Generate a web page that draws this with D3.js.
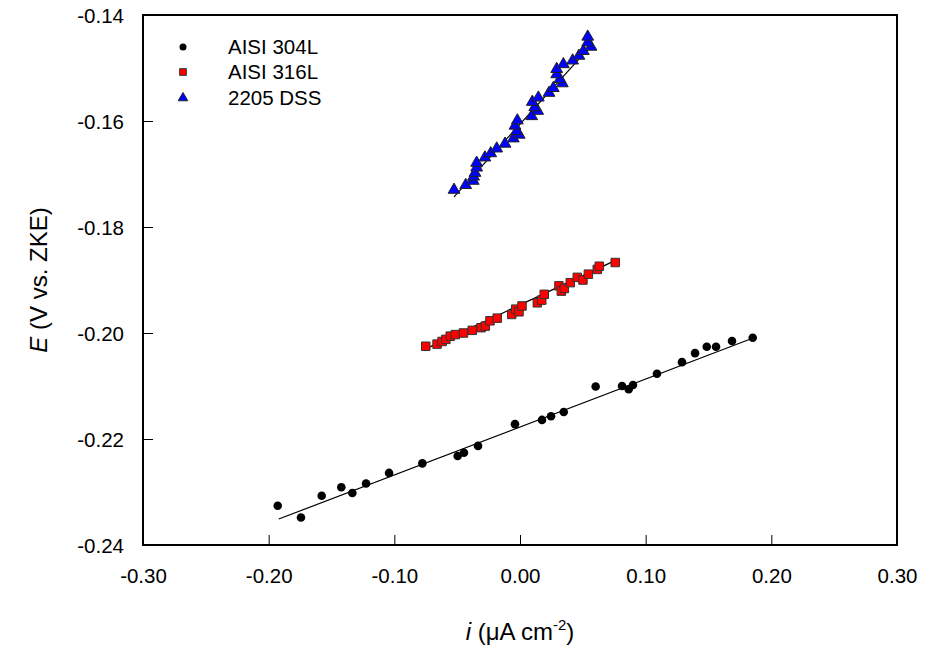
<!DOCTYPE html>
<html><head><meta charset="utf-8">
<script src="https://cdn.jsdelivr.net/npm/d3@7"></script>
<style>body{margin:0;background:#fff}</style>
</head><body>
<svg id="c" width="928" height="657"></svg>
<script>
const xTicks = [-0.30,-0.20,-0.10,0.00,0.10,0.20,0.30];
const yTicks = [-0.24,-0.22,-0.20,-0.18,-0.16,-0.14];

const series304X = [-0.1928,-0.1743,-0.1578,-0.1422,-0.1334,-0.1225,-0.1042,-0.0777,-0.0496,-0.0446,-0.0334,-0.0040,0.0175,0.0247,0.0348,0.0602,0.0812,0.0865,0.0899,0.1090,0.1289,0.1393,0.1486,0.1560,0.1687,0.1852];
const series304Y = [-0.2326,-0.2348,-0.2307,-0.2291,-0.2302,-0.2284,-0.2264,-0.2246,-0.2232,-0.2226,-0.2213,-0.2172,-0.2164,-0.2157,-0.2149,-0.2101,-0.2100,-0.2106,-0.2098,-0.2077,-0.2055,-0.2038,-0.2026,-0.2026,-0.2015,-0.2009];

const series316X = [-0.0750,-0.0660,-0.0620,-0.0590,-0.0555,-0.0515,-0.0450,-0.0380,-0.0310,-0.0276,-0.0239,-0.0181,-0.0066,-0.0034,-0.0008,0.0016,0.0138,0.0173,0.0193,0.0310,0.0329,0.0353,0.0400,0.0456,0.0501,0.0544,0.0615,0.0631,0.0758];
const series316Y = [-0.2025,-0.2021,-0.2016,-0.2012,-0.2006,-0.2003,-0.2000,-0.1995,-0.1990,-0.1987,-0.1977,-0.1972,-0.1965,-0.1955,-0.1960,-0.1949,-0.1943,-0.1938,-0.1927,-0.1911,-0.1921,-0.1916,-0.1905,-0.1895,-0.1900,-0.1889,-0.1880,-0.1874,-0.1867];

const series2205X = [-0.0525,-0.0432,-0.0372,-0.0369,-0.0358,-0.0345,-0.0345,-0.0279,-0.0233,-0.0185,-0.0119,-0.0053,-0.0006,-0.0026,-0.0040,-0.0021,0.0093,0.0141,0.0117,0.0098,0.0146,0.0231,0.0265,0.0337,0.0318,0.0292,0.0292,0.0345,0.0419,0.0469,0.0504,0.0565,0.0539,0.0539];
const series2205Y = [-0.1730,-0.1721,-0.1713,-0.1705,-0.1698,-0.1688,-0.1679,-0.1669,-0.1661,-0.1652,-0.1643,-0.1633,-0.1626,-0.1619,-0.1609,-0.1599,-0.1591,-0.1581,-0.1574,-0.1564,-0.1556,-0.1547,-0.1538,-0.1529,-0.1521,-0.1512,-0.1502,-0.1493,-0.1486,-0.1477,-0.1468,-0.1460,-0.1452,-0.1441];

// fit lines: [x0, y0, x1, y1]
const fit304 = [-0.192,-0.2351,0.185,-0.2010];
const fit316 = [-0.075,-0.2030,0.076,-0.1863];
const fit2205 = [-0.0525,-0.1743,0.057,-0.1457];

const legendLabels = ["AISI 304L","AISI 316L","2205 DSS"];

const W=928,H=657, m={l:143,t:15,r:31,b:112};
const pw=W-m.l-m.r, ph=H-m.t-m.b;
const svg=d3.select("#c");
const x=d3.scaleLinear().domain([-0.30,0.30]).range([m.l,m.l+pw]);
const y=d3.scaleLinear().domain([-0.24,-0.14]).range([m.t+ph,m.t]);
const font="Liberation Sans, Arial, sans-serif";
const fmt=d=>d.toFixed(2);

// axes with inward ticks
const xa=svg.append("g").attr("transform",`translate(0,${m.t+ph})`)
  .call(d3.axisBottom(x).tickValues(xTicks).tickSize(-10).tickPadding(23).tickFormat(fmt));
const ya=svg.append("g").attr("transform",`translate(${m.l},0)`)
  .call(d3.axisLeft(y).tickValues(yTicks).tickSize(-10).tickPadding(19).tickFormat(fmt));
[xa,ya].forEach(a=>{
  a.select(".domain").remove();
  a.selectAll("line").attr("stroke","#000").attr("stroke-width",1);
  a.selectAll("text").attr("font-family",font).attr("font-size",20.5).attr("fill","#000");
});
xa.selectAll("text").attr("dy","0.71em");
ya.selectAll("text").attr("dy","0.35em");
// frame
svg.append("rect").attr("x",m.l).attr("y",m.t).attr("width",pw).attr("height",ph)
  .attr("fill","none").attr("stroke","#000").attr("stroke-width",2);

// fit lines
[fit304,fit316,fit2205].forEach(f=>{
  svg.append("line").attr("x1",x(f[0])).attr("y1",y(f[1])).attr("x2",x(f[2])).attr("y2",y(f[3]))
    .attr("stroke","#000").attr("stroke-width",1.2);
});

const zip=(a,b)=>a.map((v,i)=>[v,b[i]]);
svg.append("g").selectAll("circle").data(zip(series304X,series304Y)).join("circle")
  .attr("cx",d=>x(d[0])).attr("cy",d=>y(d[1])).attr("r",4.3).attr("fill","#000");
const sq=d3.symbol().type(d3.symbolSquare).size(72);
svg.append("g").selectAll("path").data(zip(series316X,series316Y)).join("path")
  .attr("d",sq).attr("transform",d=>`translate(${x(d[0])},${y(d[1])})`)
  .attr("fill","#ff0000").attr("stroke","#333").attr("stroke-width",1);
const tri=d3.symbol().type(d3.symbolTriangle).size(60);
svg.append("g").selectAll("path").data(zip(series2205X,series2205Y)).join("path")
  .attr("d",tri).attr("transform",d=>`translate(${x(d[0])},${y(d[1])})`)
  .attr("fill","#0000ff").attr("stroke","#222").attr("stroke-width",1);

// legend
const lg=svg.append("g");
const ly=[47,72,98], lx=183;
lg.append("circle").attr("cx",lx).attr("cy",ly[0]).attr("r",3.5).attr("fill","#000");
lg.append("path").attr("d",d3.symbol().type(d3.symbolSquare).size(45)).attr("transform",`translate(${lx},${ly[1]})`).attr("fill","#ff0000").attr("stroke","#333");
lg.append("path").attr("d",d3.symbol().type(d3.symbolTriangle).size(40)).attr("transform",`translate(${lx},${ly[2]})`).attr("fill","#0000ff").attr("stroke","#222");
legendLabels.forEach((t,i)=>lg.append("text").attr("x",228).attr("y",ly[i]).attr("dy","0.35em")
  .attr("font-family",font).attr("font-size",20.5).text(t));

// axis titles
const xt=svg.append("text").attr("x",m.l+pw/2).attr("y",640).attr("text-anchor","middle")
  .attr("font-family",font).attr("font-size",24);
xt.append("tspan").attr("font-style","italic").text("i");
xt.append("tspan").text(" (μA cm");
xt.append("tspan").attr("font-size",15).attr("dy",-10).text("-2");
xt.append("tspan").attr("dy",10).text(")");
const yt=svg.append("text").attr("transform",`translate(47,${m.t+ph/2}) rotate(-90)`).attr("text-anchor","middle")
  .attr("font-family",font).attr("font-size",24);
yt.append("tspan").attr("font-style","italic").text("E");
yt.append("tspan").text(" (V vs. ZKE)");
</script>
</body></html>
